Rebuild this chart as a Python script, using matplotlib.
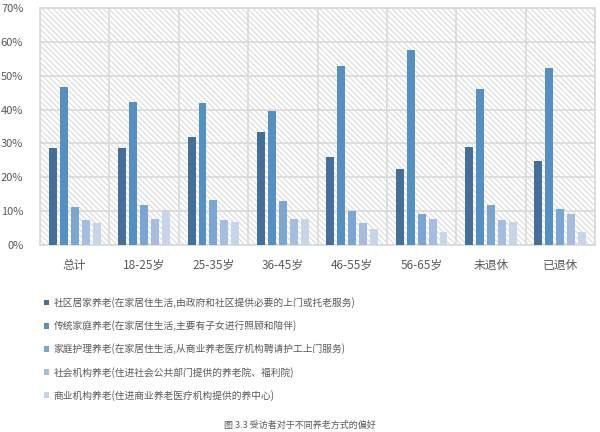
import matplotlib.pyplot as plt
from matplotlib.patches import Rectangle, Patch
import numpy as np

plt.rcParams['font.family'] = ['Noto Sans CJK SC', 'DejaVu Sans']
plt.rcParams['hatch.linewidth'] = 0.7
plt.rcParams['hatch.color'] = '#d6d6d6'

# Age / retirement groups
groups = ['总计', '18-25岁', '25-35岁', '36-45岁', '46-55岁', '56-65岁', '未退休', '已退休']

# Share of respondents preferring each way of elderly care
community = [28.7, 28.5, 31.9, 33.3, 26.0, 22.4, 28.9, 24.8]
family = [46.7, 42.3, 41.8, 39.7, 53.0, 57.7, 46.2, 52.3]
home_nursing = [11.3, 11.9, 13.2, 12.9, 10.0, 9.1, 11.9, 10.7]
public_inst = [7.4, 7.6, 7.4, 7.8, 6.5, 7.6, 7.4, 9.1]
private_inst = [6.5, 10.3, 6.7, 7.6, 4.8, 3.9, 6.7, 3.9]

series_names = [
    '社区居家养老(在家居住生活,由政府和社区提供必要的上门或托老服务)',
    '传统家庭养老(在家居住生活,主要有子女进行照顾和陪伴)',
    '家庭护理养老(在家居住生活,从商业养老医疗机构聘请护工上门服务)',
    '社会机构养老(住进社会公共部门提供的养老院、福利院)',
    '商业机构养老(住进商业养老医疗机构提供的养中心)',
]
colors = ['#436f98', '#5590c3', '#7ba6d3', '#a4bde0', '#c6d5ea']
all_series = [community, family, home_nursing, public_inst, private_inst]

fig = plt.figure(figsize=(6, 4.32), dpi=100)
ax = fig.add_axes([0.0667, 0.433, 0.925, 0.5486])

x = np.arange(len(groups))
width = 0.115
pitch = 0.158

# hatched background
ax.add_patch(Rectangle((0, 0), 1, 1, transform=ax.transAxes, facecolor='white',
                       edgecolor='#d6d6d6', hatch='\\' * 6, linewidth=0, zorder=0))

for i, (vals, col) in enumerate(zip(all_series, colors)):
    ax.bar(x + (i - 2) * pitch, np.array(vals) / 100, width, color=col, zorder=3)

ax.set_xlim(-0.5, len(groups) - 0.5)
ax.set_ylim(0, 0.7)
ax.set_yticks(np.arange(0, 0.71, 0.1))
ax.set_yticklabels([f'{int(round(v * 100))}%' for v in np.arange(0, 0.71, 0.1)])
ax.set_xticks(x)
ax.set_xticklabels(groups, fontsize=8.5)
ax.set_xticks(np.arange(-0.5, len(groups), 1), minor=True)
ax.grid(axis='y', color='#d9d9d9', linewidth=1.2, zorder=1)
ax.grid(axis='x', which='minor', color='#d9d9d9', linewidth=1.2, zorder=1)
ax.grid(axis='x', which='major', visible=False)
ax.tick_params(axis='both', which='both', length=0, colors='#595959')
ax.tick_params(axis='y', labelsize=8, pad=12)
ax.tick_params(axis='x', pad=10)
for s in ax.spines.values():
    s.set_color('#d9d9d9')
    s.set_linewidth(1.2)
ax.set_axisbelow(True)

handles = [Patch(facecolor=c) for c in colors]
fig.legend(handles, series_names, loc='upper left', bbox_to_anchor=(0.065, 0.323),
           frameon=False, fontsize=7, labelcolor='#595959', handlelength=0.5,
           handleheight=0.5, handletextpad=0.5, labelspacing=1.25, borderpad=0)

fig.text(0.5, 0.004, '图 3.3 受访者对于不同养老方式的偏好', ha='center', va='bottom',
         fontsize=6.5, color='#595959')

fig.savefig('out.png', dpi=100)
